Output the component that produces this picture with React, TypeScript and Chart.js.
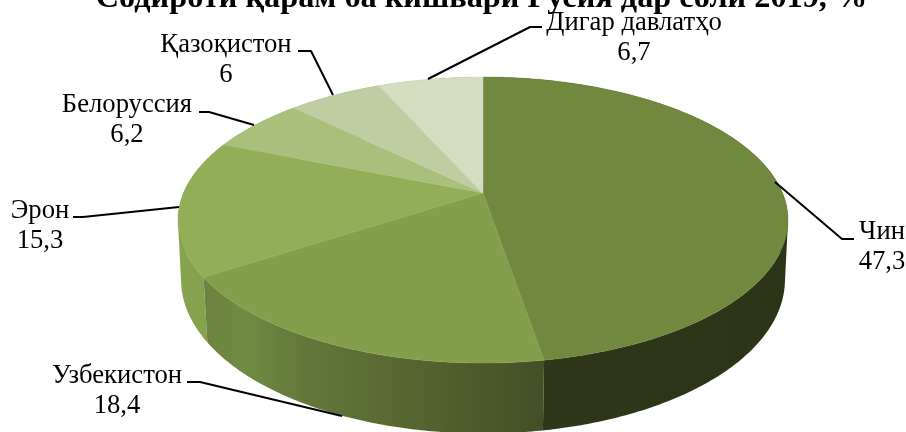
import React, { useEffect, useRef } from "react";
import { Chart, registerables } from "chart.js";

Chart.register(...registerables);

const categories = ["Чин", "Узбекистон", "Эрон", "Белоруссия", "Қазоқистон", "Дигар давлатҳо"];
const shares = [47.3, 18.4, 15.3, 6.2, 6, 6.7];
const topColors = ["#71893F", "#839F4C", "#92AE57", "#A8C07C", "#BFCEA2", "#D4DDC0"];
const titleText = "Содироти қарам ба кишвари Русия дар соли 2019, %";

// Wall shading, as [position along the slice's horizontal extent, colour]
const wallStops: [number, string][][] = [
  [[0, "#333E1C"], [0.25, "#2E3719"], [1, "#2B3416"]],
  [[0, "#6C8340"], [0.12, "#6F8B42"], [0.3, "#62783A"], [0.6, "#566630"], [1, "#434F27"]],
  [[0, "#88A350"], [1, "#82A04C"]],
  [[0, "#88A350"], [1, "#88A350"]],
  [[0, "#88A350"], [1, "#88A350"]],
  [[0, "#88A350"], [1, "#88A350"]],
];

// Perspective of the two discs of the pie
const topDisc = { cx: 483, cy: 193, a: 299.5, b: 137.9, k: 0.189 };
const baseDisc = { cx: 483, cy: 252, a: 297, b: 148.8, k: 0.18 };

// Label anchors and leader lines
const labelX = [882, 117, 40, 127, 226, 634];
const labelY = [239, 383, 218, 112, 52, 30];
const lineGap = 30;
const leaders: [number, number][][] = [
  [[854, 239], [842, 239], [775, 182]],
  [[187, 382], [200, 382], [342, 416]],
  [[73, 217], [83, 217], [179, 207]],
  [[199, 112], [209, 112], [254, 125]],
  [[298, 51], [311, 51], [333, 95]],
  [[542, 27], [530, 27], [428, 79]],
];

type Disc = typeof topDisc;
const project = (d: Disc, theta: number): [number, number] => {
  const u = Math.sin(theta);
  const v = -Math.cos(theta);
  const w = 1 - d.k * v;
  return [d.cx + (d.a * u) / w, d.cy + (d.b * v) / w];
};
const arcPoints = (d: Disc, from: number, to: number) => {
  const n = Math.max(2, Math.ceil(Math.abs(to - from) / 0.01));
  const pts: [number, number][] = [];
  for (let i = 0; i <= n; i++) pts.push(project(d, from + ((to - from) * i) / n));
  return pts;
};

const pie3d = {
  id: "pie3d",
  beforeDatasetsDraw(chart: any) {
    const ctx: CanvasRenderingContext2D = chart.ctx;
    const arcs = chart.getDatasetMeta(0).data.map((el: any, i: number) => ({
      i,
      from: el.startAngle + Math.PI / 2,
      to: el.endAngle + Math.PI / 2,
    }));
    ctx.save();
    // side walls, far slices first
    [...arcs].reverse().forEach((s: any) => {
      const top = arcPoints(topDisc, s.from, s.to);
      const base = arcPoints(baseDisc, s.from, s.to);
      const xs = [...top, ...base].map((p) => p[0]);
      const x0 = Math.min(...xs);
      const x1 = Math.max(...xs);
      const g = ctx.createLinearGradient(x0, 0, x1, 0);
      wallStops[s.i].forEach(([p, c]) => g.addColorStop(p, c));
      ctx.fillStyle = g;
      ctx.beginPath();
      for (let j = 0; j + 1 < top.length; j++) {
        const q = [top[j], top[j + 1], base[j + 1], base[j]];
        let area = 0;
        q.forEach((p, m) => {
          const r = q[(m + 1) % 4];
          area += p[0] * r[1] - r[0] * p[1];
        });
        const quad = area < 0 ? [...q].reverse() : q;
        quad.forEach((p, m) => (m ? ctx.lineTo(p[0], p[1]) : ctx.moveTo(p[0], p[1])));
        ctx.closePath();
      }
      ctx.fill();
    });
    // top face
    arcs.forEach((s: any) => {
      ctx.fillStyle = topColors[s.i];
      ctx.strokeStyle = topColors[s.i];
      ctx.lineWidth = 0.4;
      ctx.beginPath();
      ctx.moveTo(topDisc.cx, topDisc.cy);
      arcPoints(topDisc, s.from, s.to).forEach((p) => ctx.lineTo(p[0], p[1]));
      ctx.closePath();
      ctx.fill();
      ctx.stroke();
    });
    ctx.restore();
    return false;
  },
  afterDraw(chart: any) {
    const ctx: CanvasRenderingContext2D = chart.ctx;
    ctx.save();
    ctx.strokeStyle = "#000000";
    ctx.lineWidth = 2;
    ctx.lineJoin = "round";
    leaders.forEach((line) => {
      ctx.beginPath();
      line.forEach((p, j) => (j ? ctx.lineTo(p[0], p[1]) : ctx.moveTo(p[0], p[1])));
      ctx.stroke();
    });
    ctx.fillStyle = "#000000";
    ctx.font = "26.67px 'Liberation Serif'";
    ctx.textAlign = "center";
    ctx.textBaseline = "alphabetic";
    categories.forEach((name, i) => {
      ctx.fillText(name, labelX[i], labelY[i]);
      ctx.fillText(String(shares[i]).replace(".", ","), labelX[i], labelY[i] + lineGap);
    });
    ctx.restore();
  },
};

export default function App() {
  const ref = useRef<HTMLCanvasElement>(null);
  useEffect(() => {
    const chart = new Chart(ref.current!, {
      type: "pie",
      data: {
        labels: categories,
        datasets: [{ data: shares, backgroundColor: topColors, borderWidth: 0 }],
      },
      options: {
        responsive: false,
        animation: false,
        events: [],
        layout: { padding: { left: 57 } },
        plugins: {
          legend: { display: false },
          tooltip: { enabled: false },
          title: {
            display: true,
            text: titleText,
            color: "#000000",
            font: { family: "'Liberation Serif'", size: 32.3, weight: "bold" },
            padding: { top: -21, bottom: 0 },
          },
        },
      },
      plugins: [pie3d],
    } as any);
    return () => chart.destroy();
  }, []);
  return (
    <div style={{ position: "absolute", left: 0, top: 0, width: 906, height: 432, background: "#fff", overflow: "hidden" }}>
      <canvas ref={ref} width={906} height={432} style={{ display: "block" }} />
    </div>
  );
}
